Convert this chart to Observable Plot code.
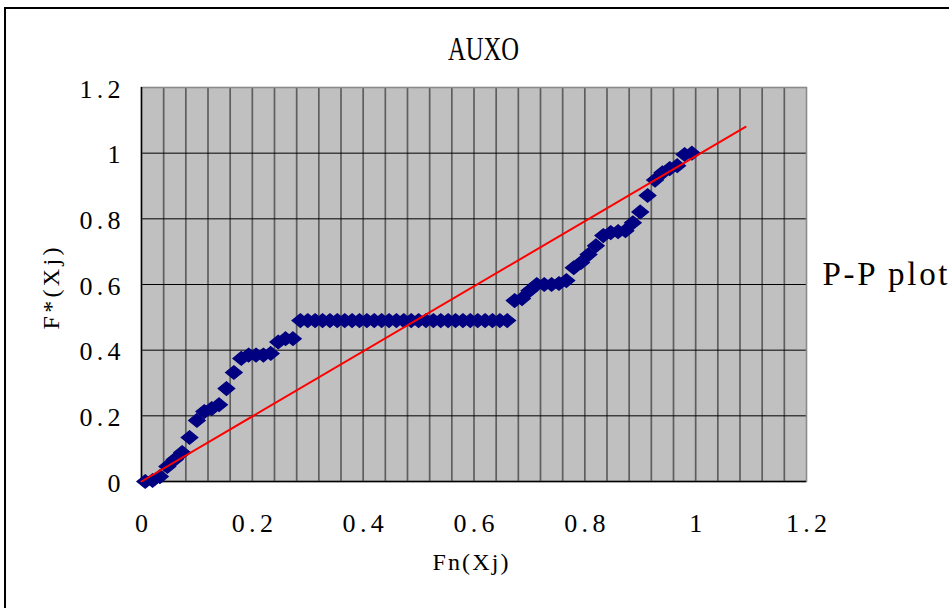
<!DOCTYPE html>
<html><head><meta charset="utf-8">
<script src="https://cdn.jsdelivr.net/npm/d3@7"></script>
<script src="https://cdn.jsdelivr.net/npm/@observablehq/plot@0.6"></script>
<style>
html,body{margin:0;padding:0;background:#fff;overflow:hidden;width:949px;height:608px}
#wrap{position:relative;width:949px;height:608px;overflow:hidden}
#wrap svg{position:absolute;left:0;top:0}
#border{position:absolute;left:4px;top:7px;width:1000px;height:700px;border:2px solid #000;pointer-events:none}
</style></head><body><div id="wrap"><div id="border"></div></div>
<script>
const title = "AUXO";
const seriesName = "P-P plot";
const xLabel = "Fn(Xj)";
const yLabel = "F*(Xj)";

// Fn(Xj): empirical probabilities (x of each point)
const fnX = [0.0067,0.0200,0.0333,0.0467,0.0600,0.0733,0.0867,0.1000,0.1133,0.1267,
  0.1400,0.1533,0.1667,0.1800,0.1933,0.2067,0.2200,0.2333,0.2467,0.2600,
  0.2733,0.2867,0.3000,0.3133,0.3267,0.3400,0.3533,0.3667,0.3800,0.3933,
  0.4067,0.4200,0.4333,0.4467,0.4600,0.4733,0.4867,0.5000,0.5133,0.5267,
  0.5400,0.5533,0.5667,0.5800,0.5933,0.6067,0.6200,0.6333,0.6467,0.6600,
  0.6733,0.6867,0.7000,0.7133,0.7267,0.7400,0.7533,0.7667,0.7800,0.7933,
  0.8067,0.8200,0.8333,0.8467,0.8600,0.8733,0.8867,0.9000,0.9133,0.9267,
  0.9400,0.9533,0.9667,0.9800,0.9933];
// F*(Xj): fitted probabilities (y of each point)
const fStar = [0.000,0.003,0.015,0.046,0.067,0.088,0.134,0.186,0.213,0.222,
  0.234,0.283,0.332,0.375,0.385,0.385,0.385,0.390,0.425,0.435,
  0.435,0.490,0.490,0.490,0.490,0.490,0.490,0.490,0.490,0.490,
  0.490,0.490,0.490,0.490,0.490,0.490,0.490,0.490,0.490,0.490,
  0.490,0.490,0.490,0.490,0.490,0.490,0.490,0.490,0.490,0.490,
  0.551,0.557,0.581,0.600,0.600,0.600,0.603,0.612,0.651,0.667,
  0.691,0.718,0.749,0.758,0.761,0.764,0.788,0.821,0.871,0.918,
  0.940,0.953,0.962,0.996,1.000];

// reference line end points
const lineX = [0, 1.09];
const lineY = [0, 1.08];

const xTicks = [0, 0.2, 0.4, 0.6, 0.8, 1, 1.2];
const yTicks = [0, 0.2, 0.4, 0.6, 0.8, 1, 1.2];
const tickLabels = ["0", "0.2", "0.4", "0.6", "0.8", "1", "1.2"];
const xMinorGrid = [0.04,0.08,0.12,0.16,0.2,0.24,0.28,0.32,0.36,0.4,0.44,0.48,0.52,0.56,0.6,
  0.64,0.68,0.72,0.76,0.8,0.84,0.88,0.92,0.96,1,1.04,1.08,1.12,1.16];
const yMajorGrid = [0.2, 0.4, 0.6, 0.8, 1];

const pts = fnX.map((x, i) => ({x, y: fStar[i]}));
const linePts = lineX.map((x, i) => ({x, y: lineY[i]}));
const fmt = d => tickLabels[xTicks.indexOf(d)] ?? String(d);

// Excel-style diamond marker: a bit wider than tall
const wideDiamond = {
  draw(context, size) {
    const r = Math.sqrt(size / Math.PI);
    const w = r * 1.22, h = r;
    context.moveTo(0, -h);
    context.lineTo(w, 0);
    context.lineTo(0, h);
    context.lineTo(-w, 0);
    context.closePath();
  }
};

const plot = Plot.plot({
  width: 949, height: 608,
  marginLeft: 141, marginRight: 143, marginTop: 87, marginBottom: 127,
  x: {domain: [0, 1.2], label: null},
  y: {domain: [0, 1.2], label: null},
  style: {background: "transparent", fontFamily: "'Liberation Serif', serif", color: "#000"},
  marks: [
    Plot.frame({fill: "#c0c0c0", stroke: "none"}),
    Plot.ruleX(xMinorGrid, {stroke: "#5e5e5e", strokeWidth: 1.7}),
    Plot.ruleY(yMajorGrid, {stroke: "#000", strokeWidth: 1}),
    Plot.frame({stroke: "#8a8a8a", strokeWidth: 1.6}),
    Plot.ruleX([0], {stroke: "#000", strokeWidth: 1.5}),
    Plot.ruleY([0], {stroke: "#000", strokeWidth: 1.5}),
    Plot.axisX(xTicks, {label: null, tickSize: 0, tickPadding: 32, tickFormat: fmt, fontSize: 26}),
    Plot.axisY(yTicks, {label: null, tickSize: 0, tickPadding: 21, tickFormat: fmt, fontSize: 26, dy: 2}),
    Plot.dot(pts, {x: "x", y: "y", symbol: wideDiamond, r: 6.8, fill: "#000080", stroke: "#000080", strokeWidth: 1.2}),
    Plot.line(linePts, {x: "x", y: "y", stroke: "#ff0000", strokeWidth: 2}),
    Plot.text([title], {frameAnchor: "top", text: d => d, fontSize: 34, dx: 9.5, dy: -38, lineAnchor: "middle"}),
    Plot.text([seriesName], {frameAnchor: "right", text: d => d, fontSize: 33, dx: 16, dy: -9.6, textAnchor: "start", lineAnchor: "middle"}),
    Plot.text([xLabel], {frameAnchor: "bottom", text: d => d, fontSize: 24, dx: -3.5, dy: 81, lineAnchor: "middle"}),
    Plot.text([yLabel], {frameAnchor: "left", text: d => d, fontSize: 24, dx: -90, dy: 4, rotate: -90, textAnchor: "middle", lineAnchor: "middle"})
  ]
});
document.getElementById("wrap").prepend(plot);

// mimic the half-width CJK-font letter widths of the original
const svg = d3.select(plot);
svg.selectAll('g[aria-label="x-axis tick label"] text, g[aria-label="y-axis tick label"] text').each(function() {
  const t = this.textContent;
  if (t.length > 1) d3.select(this).attr("textLength", t.length * 13.7).attr("lengthAdjust", "spacing");
});
const fit = {[title]: [71, "spacingAndGlyphs"], [seriesName]: [125, "spacing"], [xLabel]: [76, "spacing"], [yLabel]: [82, "spacing"]};
svg.selectAll('g[aria-label="text"] text').each(function() {
  const f = fit[this.textContent];
  if (f) d3.select(this).attr("textLength", f[0]).attr("lengthAdjust", f[1]);
});
</script></body></html>
